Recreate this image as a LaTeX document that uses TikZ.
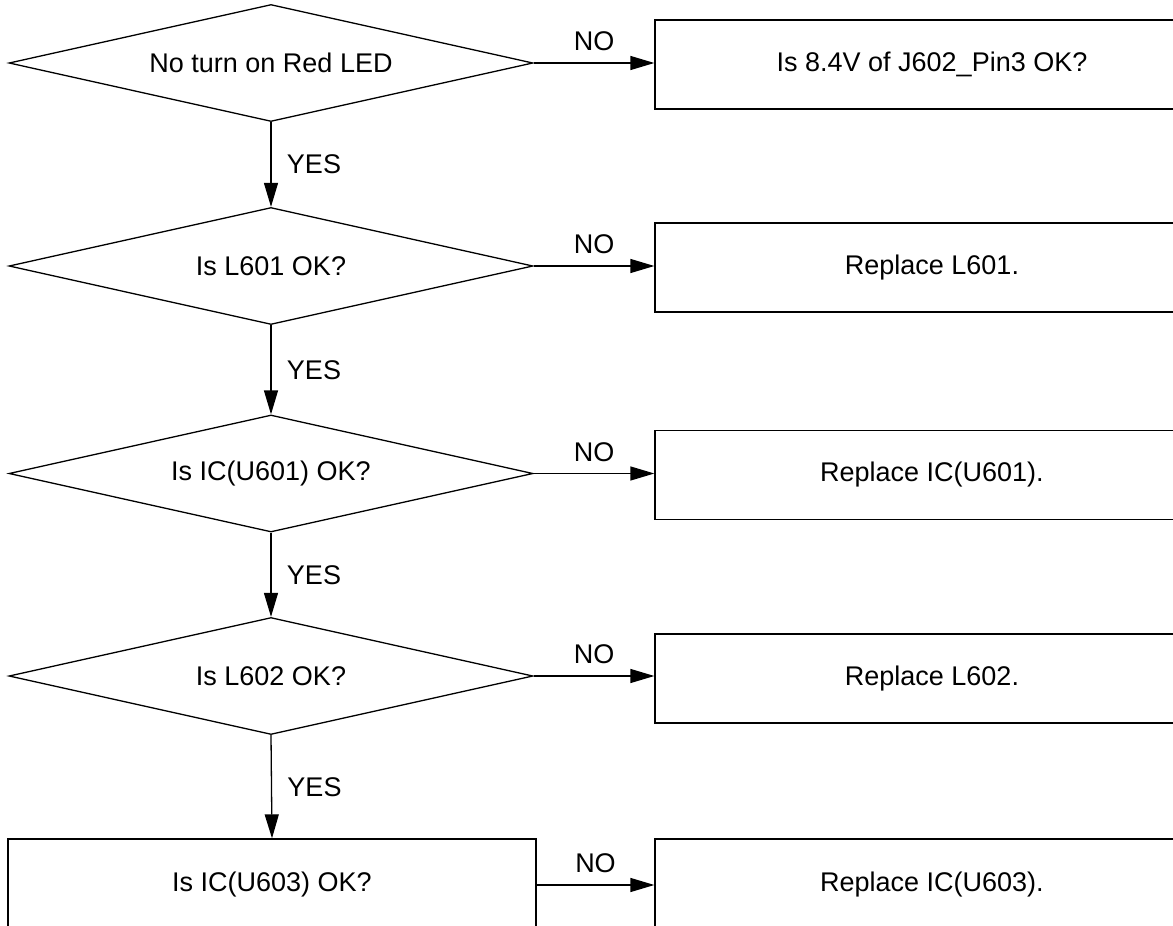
\documentclass[tikz,border=0pt]{standalone}
\usepackage{fontspec}
\setmainfont{Liberation Sans}
\usetikzlibrary{shapes.geometric,arrows.meta}

\begin{document}
\begin{tikzpicture}[x=1pt,y=-1pt,
  font=\fontsize{27}{32}\selectfont,
  line width=1.3pt,
  test/.style={diamond,draw,aspect=4.48,minimum width=524pt,minimum height=117pt,inner sep=0pt},
  fix/.style={rectangle,draw,minimum width=554pt,minimum height=89pt},
  flow/.style={-{Triangle[length=24pt,width=14pt]}},
  no/.style={midway,above=8pt},
  yes/.style={midway,right=12pt}]
\useasboundingbox (0,0) rectangle (1173,926);
\clip (0,0) rectangle (1173,926);
% checks down the left side
\node[test] at (271,63) (d1) {No turn on Red LED};
\node[test] at (271,266) (d2) {Is L601 OK?};
\node[test] at (271,473.5) (d3) {Is IC(U601) OK?};
\node[test] at (271,676) (d4) {Is L602 OK?};
\node[draw,minimum width=528pt,minimum height=92pt] at (272,885) (q5) {Is IC(U603) OK?};
% actions on the right
\node[fix] at (932,64.5) (r1) {Is 8.4V of J602\_Pin3 OK?};
\node[fix] at (932,267.5) (r2) {Replace L601.};
\node[fix] at (932,475) (r3) {Replace IC(U601).};
\node[fix] at (932,678.5) (r4) {Replace L602.};
\node[fix,minimum height=92pt] at (932,885) (r5) {Replace IC(U603).};
\draw[flow] (d1.east) -- (d1.east -| r1.west) node[no] {NO};
\draw[flow] (d2.east) -- (d2.east -| r2.west) node[no] {NO};
\draw[flow] (d3.east) -- (d3.east -| r3.west) node[no] {NO};
\draw[flow] (d4.east) -- (d4.east -| r4.west) node[no] {NO};
\draw[flow] (q5.east) -- (q5.east -| r5.west) node[no] {NO};
\draw[flow] (d1.south) -- (d2.north) node[yes] {YES};
\draw[flow] (d2.south) -- (d3.north) node[yes] {YES};
\draw[flow] (d3.south) -- (d4.north) node[yes] {YES};
\draw[flow] (d4.south) -- (q5.north) node[yes] {YES};
\end{tikzpicture}
\end{document}
